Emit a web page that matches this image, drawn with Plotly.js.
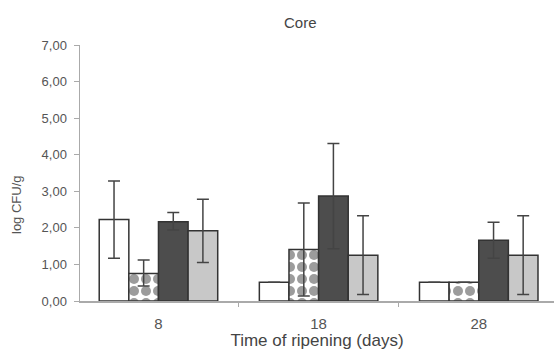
<!DOCTYPE html>
<html>
<head>
<meta charset="utf-8">
<script src="https://cdn.plot.ly/plotly-3.0.1.min.js"></script>
<style>html,body{margin:0;padding:0;background:#fff;}#chart{width:554px;height:352px;}</style>
</head>
<body>
<div id="chart"></div>
<script>
// Categories (days of ripening)
var categories = ['8', '18', '28'];

// Series values (log CFU/g)
var s1Values = [2.23, 0.51, 0.51];
var s1Upper  = [3.28, null, null];
var s1Lower  = [1.17, null, null];

var s2Values = [0.75, 1.41, 0.51];
var s2Upper  = [1.12, 2.68, null];
var s2Lower  = [0.41, 0.14, null];

var s3Values = [2.17, 2.87, 1.66];
var s3Upper  = [2.42, 4.31, 2.15];
var s3Lower  = [1.94, 1.43, 1.17];

var s4Values = [1.92, 1.25, 1.25];
var s4Upper  = [2.78, 2.33, 2.33];
var s4Lower  = [1.05, 0.18, 0.18];

var yTickValues = [0, 1, 2, 3, 4, 5, 6, 7];

function plusErr(v, up) { return v.map(function (x, i) { return up[i] == null ? null : up[i] - x; }); }
function minusErr(v, lo) { return v.map(function (x, i) { return lo[i] == null ? null : x - lo[i]; }); }

function errCfg(v, up, lo) {
  return {
    type: 'data', symmetric: false,
    array: plusErr(v, up), arrayminus: minusErr(v, lo),
    color: '#444', thickness: 1.5, width: 6
  };
}

var outline = { color: '#333333', width: 1.5 };

var traces = [
  { type: 'bar', x: categories, y: s1Values, name: 's1',
    marker: { color: '#ffffff', line: outline },
    error_y: errCfg(s1Values, s1Upper, s1Lower) },
  { type: 'bar', x: categories, y: s2Values, name: 's2',
    marker: { color: '#ffffff', line: outline,
      pattern: { shape: '.', fgcolor: '#9c9c9c', bgcolor: '#ffffff', size: 12, solidity: 0.55 } },
    error_y: errCfg(s2Values, s2Upper, s2Lower) },
  { type: 'bar', x: categories, y: s3Values, name: 's3',
    marker: { color: '#4d4d4d', line: outline },
    error_y: errCfg(s3Values, s3Upper, s3Lower) },
  { type: 'bar', x: categories, y: s4Values, name: 's4',
    marker: { color: '#c8c8c8', line: outline },
    error_y: errCfg(s4Values, s4Upper, s4Lower) }
];

var layout = {
  width: 554, height: 352,
  margin: { l: 80, r: 0, t: 45, b: 51, pad: 0 },
  paper_bgcolor: '#ffffff', plot_bgcolor: '#ffffff',
  separators: ',.',
  showlegend: false,
  barmode: 'group', bargap: 0.26, bargroupgap: 0,
  font: { family: 'Liberation Sans, Arial, sans-serif', color: '#555', size: 11 },
  title: { text: 'Core', x: 0.542, xanchor: 'center', y: 0.935, yanchor: 'middle',
           font: { size: 15, color: '#444' } },
  xaxis: {
    type: 'category', range: [-0.49, 2.47],
    showline: true, linecolor: '#aaa', linewidth: 1.5,
    ticks: 'outside', tickson: 'boundaries', ticklen: 4, tickcolor: '#aaa',
    ticklabelstandoff: 8,
    showgrid: false, zeroline: false,
    tickfont: { size: 15, color: '#555' },
    title: { text: 'Time of ripening (days)', standoff: 0, font: { size: 17, color: '#444' } }
  },
  yaxis: {
    range: [0, 7], tickvals: yTickValues, tickformat: '.2f',
    showline: true, linecolor: '#aaa', linewidth: 1.5,
    ticks: 'outside', ticklen: 5, tickcolor: '#aaa',
    ticklabelstandoff: 4,
    showgrid: false, zeroline: false,
    tickfont: { size: 13, color: '#555' }
  },
  annotations: [{
    text: 'log CFU/g', textangle: -90, showarrow: false,
    xref: 'paper', yref: 'paper', x: -0.135, y: 0.375,
    xanchor: 'center', yanchor: 'middle',
    font: { size: 13, color: '#555' }
  }]
};

Plotly.newPlot('chart', traces, layout, { staticPlot: true, displayModeBar: false });
</script>
</body>
</html>
